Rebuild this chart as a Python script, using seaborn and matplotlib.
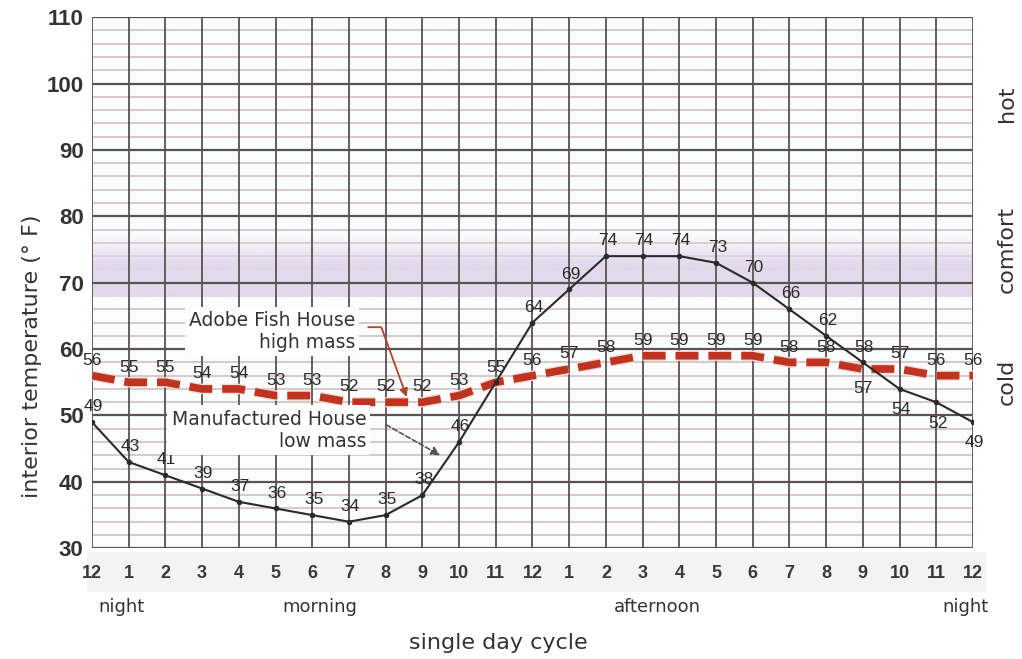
import numpy as np
import pandas as pd
import matplotlib
matplotlib.use("Agg")
import matplotlib.pyplot as plt
import matplotlib.patheffects as pe
import matplotlib.transforms as mtransforms
from matplotlib.patches import Rectangle
import seaborn as sns

sns.set_theme(style="white")
plt.rcParams['font.family'] = ['DejaVu Sans']

# ---- data ----
hours = list(range(25))
hour_labels = ["12", "1", "2", "3", "4", "5", "6", "7", "8", "9", "10", "11",
               "12", "1", "2", "3", "4", "5", "6", "7", "8", "9", "10", "11", "12"]
manufactured = [49, 43, 41, 39, 37, 36, 35, 34, 35, 38, 46, 55, 64,
                69, 74, 74, 74, 73, 70, 66, 62, 58, 54, 52, 49]
adobe = [56, 55, 55, 54, 54, 53, 53, 52, 52, 52, 53, 55, 56,
         57, 58, 59, 59, 59, 59, 58, 58, 57, 57, 56, 56]
period_labels = ["night", "morning", "afternoon", "night"]
period_hours = [0.8, 6.2, 15.4, 23.8]
zone_labels = ["hot", "comfort", "cold"]
zone_temps = [97, 75, 55]
comfort_low, comfort_high = 67.8, 77.4

df = pd.DataFrame({"hour": hours, "manufactured": manufactured, "adobe": adobe})

RED = "#bd3522"
INK = "#2a2a2a"
MAJOR = "#5b5252"
MINOR = "#cdbcb9"

fig = plt.figure(figsize=(10.22, 6.59), dpi=100)
fig.patch.set_facecolor("white")
ax = fig.add_axes([0.090, 0.168, 0.862, 0.806])
ax.set_facecolor("#fbfcfd")
# light strip behind the hour labels
fig.add_artist(Rectangle((0.085, 0.101), 0.88, 0.062, transform=fig.transFigure,
                         facecolor="#f3f3f3", edgecolor="none", zorder=-5))

# graph-paper grid
for t in range(30, 111, 2):
    if t % 10:
        ax.axhline(t, color=MINOR, lw=1.1, zorder=1)
for t in range(30, 111, 10):
    ax.axhline(t, color=MAJOR, lw=1.6, zorder=2)
for h in hours:
    ax.axvline(h, color=MAJOR, lw=1.3, zorder=2)

# comfort band (fading towards the top)
grad = np.ones((100, 1, 4))
grad[:, :, :3] = matplotlib.colors.to_rgb("#e3d7ec")
alpha = np.clip((1 - np.linspace(0, 1, 100)) / 0.5, 0, 1)
grad[:, 0, 3] = alpha * 0.95
ax.imshow(grad, extent=[0, 24, comfort_low, comfort_high], origin="lower",
          aspect="auto", zorder=1.5, interpolation="bilinear")

# series
sns.lineplot(data=df, x="hour", y="adobe", ax=ax, color=RED, lw=5.5,
             linestyle=(0, (3.0, 1.3)), zorder=3,
             path_effects=[pe.Stroke(linewidth=7.5, foreground="#f4dbd0"), pe.Normal()])
sns.lineplot(data=df, x="hour", y="manufactured", ax=ax, color=INK, lw=1.5,
             marker="o", markersize=4, markeredgewidth=0, zorder=4)

# value labels
for h, v in zip(hours, manufactured):
    if h == 11:
        continue
    dy = -15 if h >= 22 else 11
    ax.annotate(str(v), (h, v), xytext=(1, dy), textcoords="offset points",
                ha="center", va="center", fontsize=12.5, color=INK,
                family="Liberation Sans", zorder=6)
for h, v in zip(hours, adobe):
    dy = -14 if h == 21 else 11
    ax.annotate(str(v), (h, v), xytext=(0, dy), textcoords="offset points",
                ha="center", va="center", fontsize=12.5, color=INK,
                family="Liberation Sans", zorder=6)

# callouts
ax.text(7.17, 62.7, "Adobe Fish House\nhigh mass", ha="right", va="center",
        multialignment="right", fontsize=13.5, color="#333333", zorder=7,
        bbox=dict(facecolor="white", edgecolor="none", pad=3))
ax.annotate("", xy=(8.6, 52.4), xytext=(7.45, 63.3),
            arrowprops=dict(arrowstyle="-|>", color="#b0452c", lw=1.3,
                            connectionstyle="angle,angleA=0,angleB=110,rad=0",
                            mutation_scale=12), zorder=7)
ax.text(7.47, 47.8, "Manufactured House\nlow mass", ha="right", va="center",
        multialignment="right", fontsize=13.5, color="#333333", zorder=7,
        bbox=dict(facecolor="white", edgecolor="none", pad=3))
ax.annotate("", xy=(9.55, 43.8), xytext=(7.95, 48.8),
            arrowprops=dict(arrowstyle="-|>", color="#555555", lw=1.2,
                            linestyle=(0, (3, 1.5)), mutation_scale=13), zorder=7)

ax.set_xlim(0, 24)
ax.set_ylim(30, 110)
ax.set_xticks(hours)
ax.set_xticklabels(hour_labels, fontsize=13, fontweight="bold", color="#3a3a3a",
                   family="Liberation Sans")
ax.set_yticks(range(30, 111, 10))
ax.set_yticklabels([str(t) for t in range(30, 111, 10)], fontsize=16,
                   fontweight="bold", color="#333333", family="Liberation Sans")
ax.tick_params(axis="x", length=0, pad=12)
ax.tick_params(axis="y", length=0, pad=6)
ax.set_xlabel("")
ax.set_ylabel("")
for s in ax.spines.values():
    s.set_visible(False)

trans = mtransforms.blended_transform_factory(ax.transData, fig.transFigure)
for lab, h in zip(period_labels, period_hours):
    ax.text(h, 0.079, lab, transform=trans, ha="center", va="center",
            fontsize=13, color="#333333")

for lab, t in zip(zone_labels, zone_temps):
    y_fig = fig.transFigure.inverted().transform(ax.transData.transform((0, t)))[1]
    fig.text(0.985, y_fig, lab, rotation=90, ha="center", va="center",
             fontsize=16, color="#333333")

fig.text(0.488, 0.024, "single day cycle", ha="center", va="center",
         fontsize=16, color="#333333")
fig.text(0.031, 0.46, "interior temperature (° F)", rotation=90, ha="center",
         va="center", fontsize=16, color="#333333")

fig.savefig("out.png", dpi=100)
